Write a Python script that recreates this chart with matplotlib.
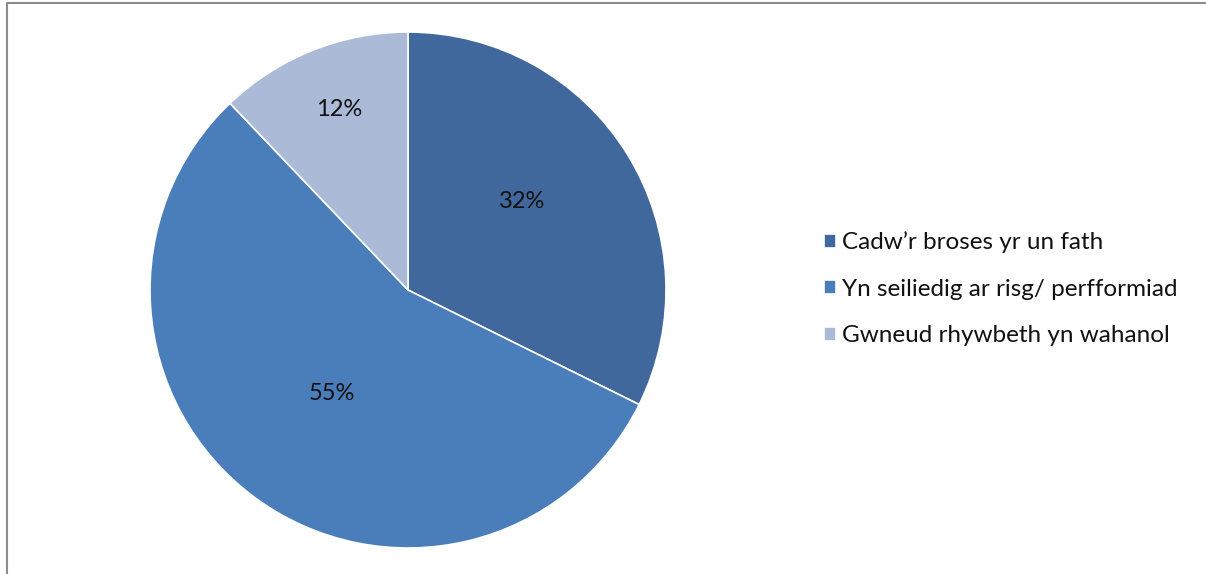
import matplotlib
matplotlib.use('Agg')
import matplotlib.pyplot as plt
import numpy as np
from matplotlib.lines import Line2D

# Data
labels = ['Cadw\u2019r broses yr un fath', 'Yn seiliedig ar risg/ perfformiad', 'Gwneud rhywbeth yn wahanol']
shares = [32, 55, 12]
pct_text = ['32%', '55%', '12%']
colors = ['#41689c', '#4a7ebb', '#aabad7']
label_dist = [0.56, 0.50, 0.75]   # how far out each percentage sits
label_nudge = [6, 0, -1]          # small angle shift (degrees) of each percentage

plt.rcParams['font.family'] = ['Lato', 'DejaVu Sans']

W, H = 1206, 574
fig = plt.figure(figsize=(W / 100, H / 100), dpi=100, facecolor='white')

# pie centre (408, 290) px, radius 258 px
cx, cy, r = 408, 290, 258
ax = fig.add_axes([(cx - r) / W, (H - cy - r) / H, 2 * r / W, 2 * r / H])
wedges, _ = ax.pie(shares, colors=colors, startangle=90, counterclock=False,
                   wedgeprops=dict(edgecolor='white', linewidth=1.2))
ax.set_xlim(-1, 1)
ax.set_ylim(-1, 1)
ax.set_aspect('equal')
ax.axis('off')

# percentage labels at the middle angle of each wedge
for w, txt, d, nd in zip(wedges, pct_text, label_dist, label_nudge):
    mid = np.deg2rad((w.theta1 + w.theta2) / 2 + nd)
    ax.text(d * np.cos(mid), d * np.sin(mid), txt, ha='center', va='center',
            fontsize=17, color='#111111')

leg = fig.legend(wedges, labels, loc='center left',
                 bbox_to_anchor=(807 / W, 1 - 289 / H), frameon=False,
                 fontsize=17.5, handlelength=0.5, handleheight=0.5,
                 handletextpad=0.25, labelspacing=1.05, borderpad=0.2)
for t in leg.get_texts():
    t.set_color('#111111')

# chart frame (top and left edges visible)
fig.add_artist(Line2D([7 / W, 7 / W, 1], [0, 1 - 3 / H, 1 - 3 / H],
                      transform=fig.transFigure, color='#8c8c8c', linewidth=1.5))

fig.savefig('out.png', dpi=100, facecolor='white')
